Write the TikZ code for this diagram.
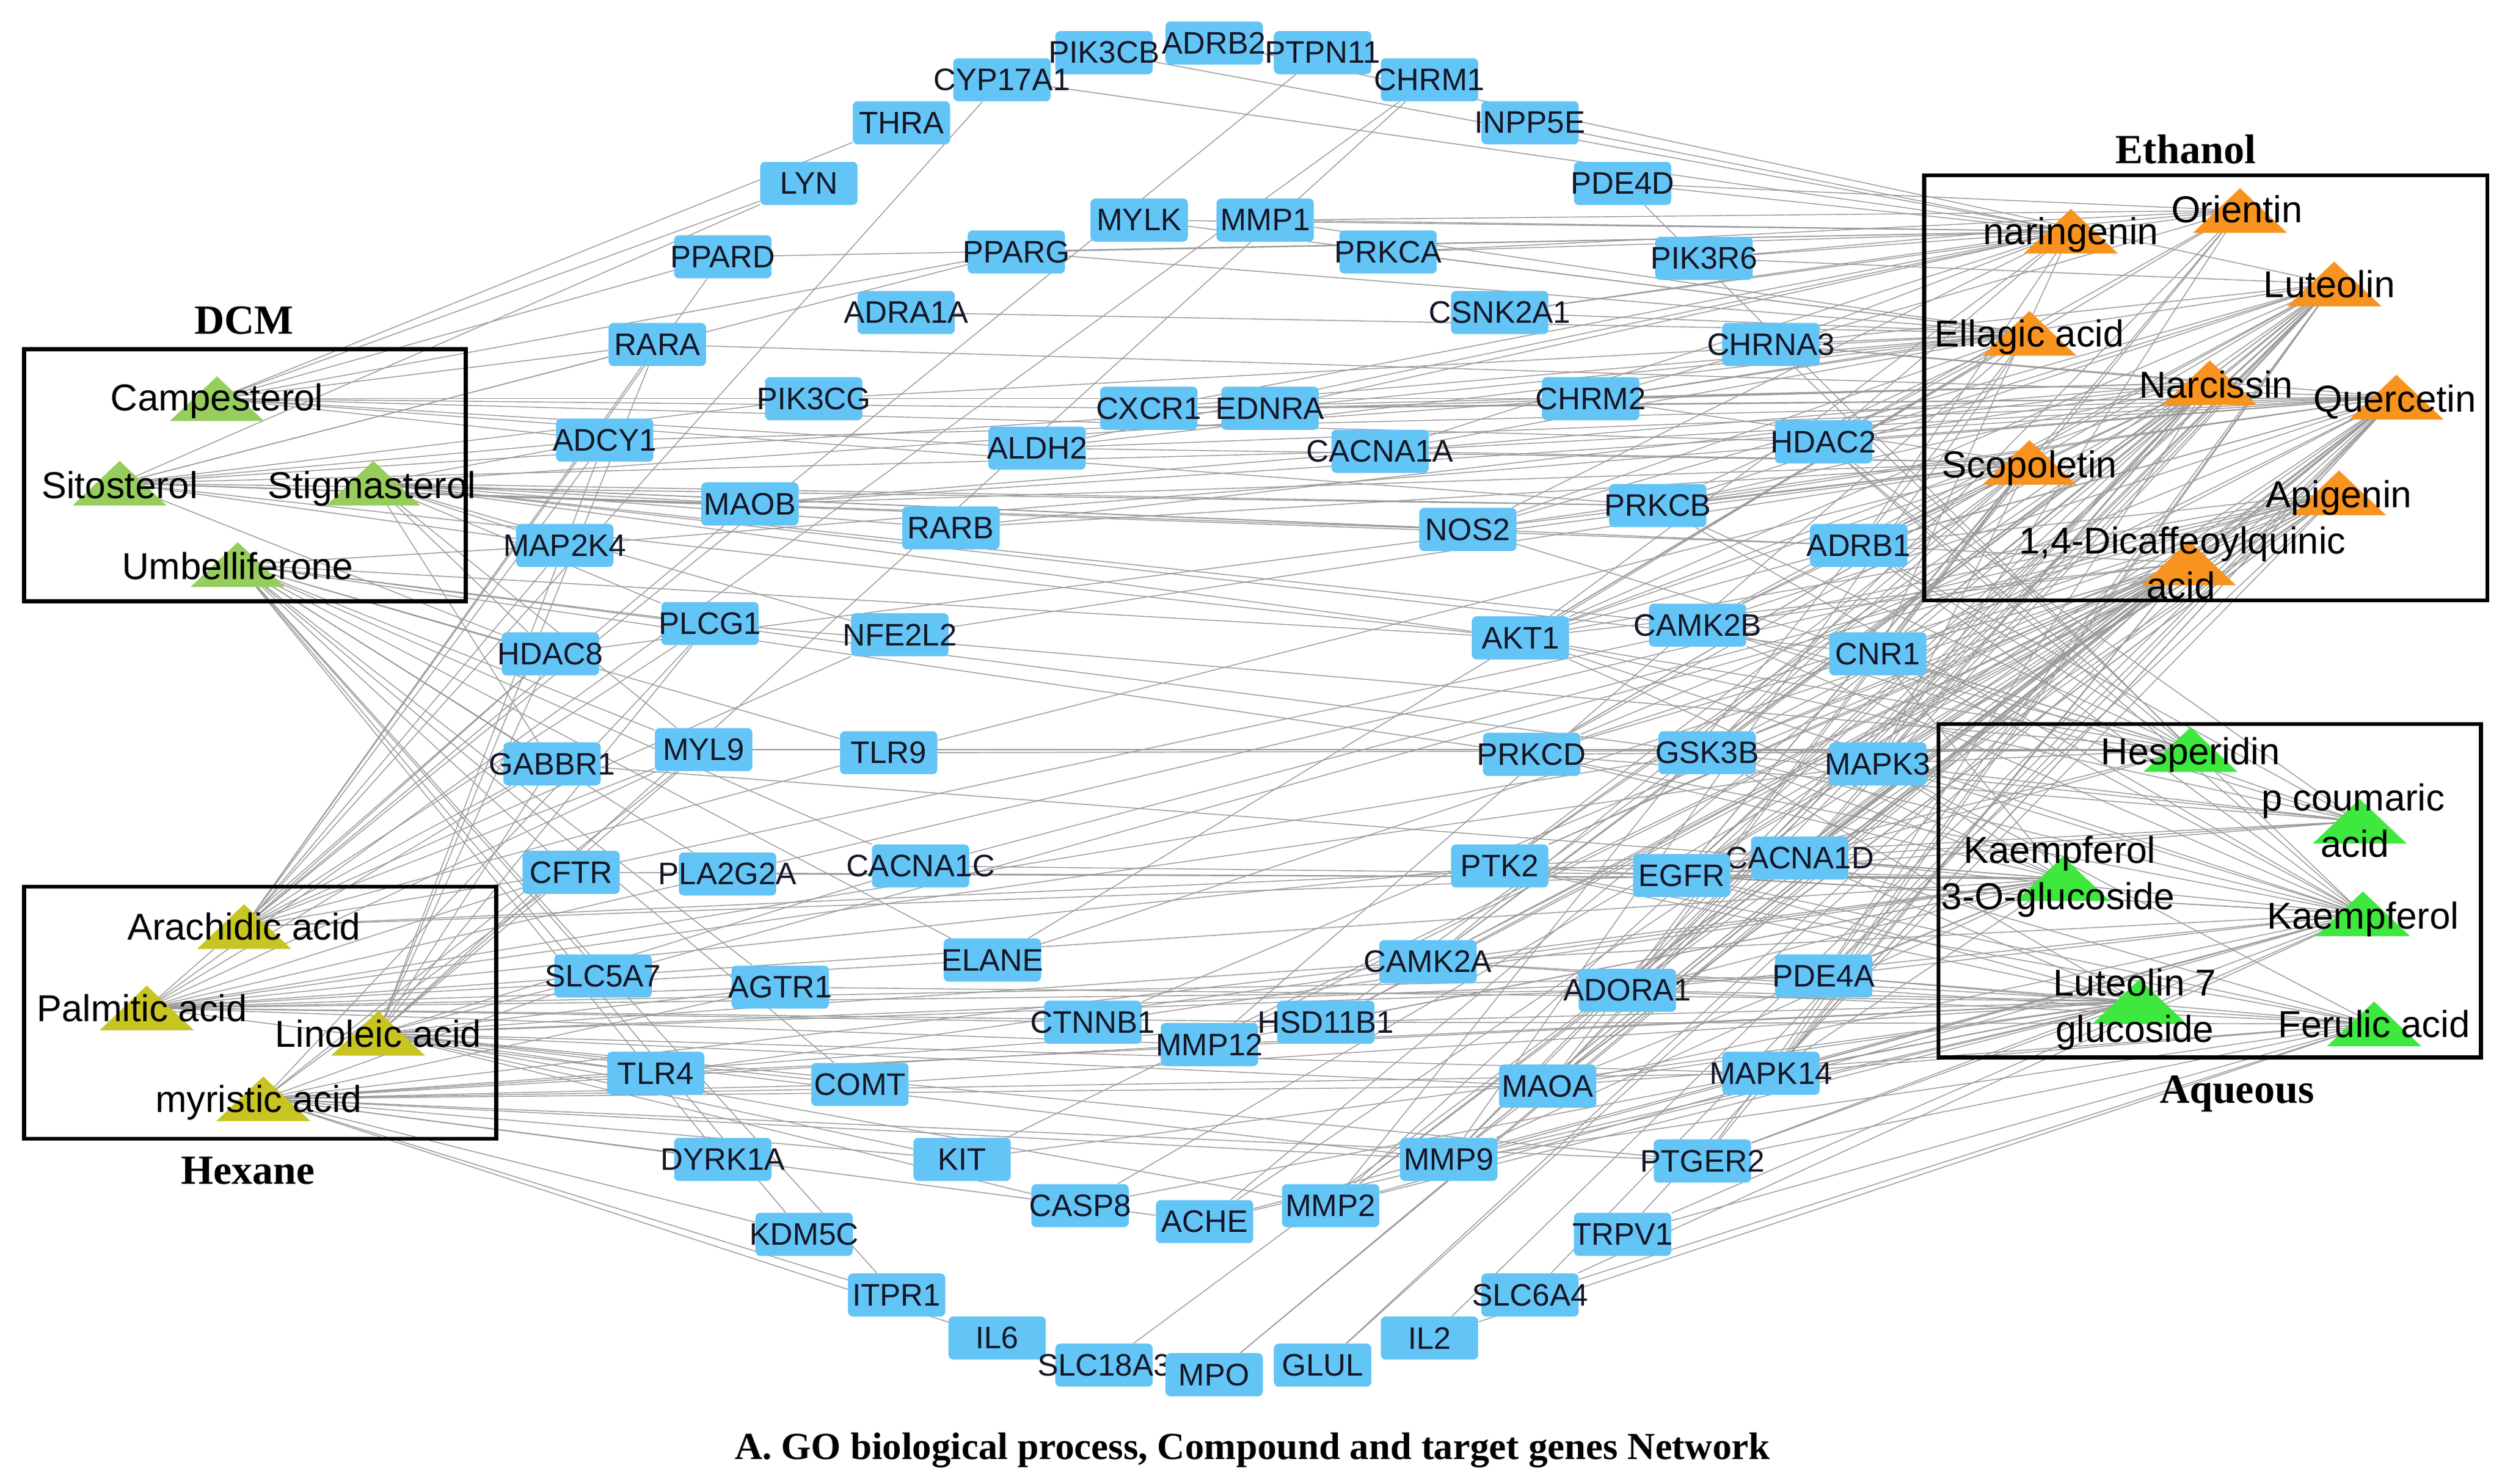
\documentclass[tikz,border=0pt]{standalone}
\usepackage{fontspec}
\setmainfont{Liberation Sans}
\newfontfamily\capfont{Liberation Serif}
\usetikzlibrary{backgrounds}
\definecolor{genebl}{RGB}{99,196,246}
\definecolor{dcmgr}{RGB}{150,205,92}
\definecolor{ethor}{RGB}{247,147,30}
\definecolor{aqugr}{RGB}{62,232,62}
\definecolor{hexol}{RGB}{200,196,34}
\definecolor{genetx}{RGB}{20,22,38}
\tikzset{
  gene/.style={fill=genebl, rounded corners=3pt, minimum width=61pt, minimum height=27pt, inner sep=0pt, label={[genetxt]center:#1}},
  genetxt/.style={font=\fontsize{19.5}{21}\selectfont, text=genetx, inner sep=0pt},
  cmptxt/.style={font=\fontsize{23.5}{25}\selectfont, inner sep=0pt, text height=16.8pt, text depth=0pt},
  grp/.style={draw, line width=2.5pt},
  grptxt/.style={font=\capfont\bfseries\fontsize{26}{28}\selectfont, inner sep=0pt, text height=17.2pt, text depth=0pt},
  edge/.style={black!40, line width=0.55pt}
}
\begin{document}
\begin{tikzpicture}[x=1pt,y=-1pt]
	\useasboundingbox (0,0) rectangle (1568.2,930.5);
	\foreach \g/\x/\y in {ADRB2/761/27, PIK3CB/692/33, PTPN11/829/33, CYP17A1/628/50, CHRM1/896/50,
		THRA/565/77, INPP5E/959/77, LYN/507/115, PDE4D/1017/115, PPARD/453/161, PIK3R6/1068/162,
		RARA/412/216, CHRNA3/1110/216, ADCY1/379/276, HDAC2/1143/277, MAP2K4/354/342, ADRB1/1165/342,
		HDAC8/345/410, CNR1/1177/410, GABBR1/346/479, MAPK3/1177/479, CFTR/358/547, CACNA1D/1128/538,
		SLC5A7/378/612, PDE4A/1143/612, TLR4/411/673, MAPK14/1110/673, DYRK1A/453/727, PTGER2/1067/728,
		KDM5C/504/774, TRPV1/1017/774, ITPR1/562/812, SLC6A4/959/812, IL6/625/839, IL2/896/839,
		SLC18A3/692/856, MPO/761/862, GLUL/829/856,
		MYLK/714/138, MMP1/793/138, PPARG/637/158, PRKCA/870/158, ADRA1A/568/196, CSNK2A1/940/196,
		PIK3CG/510/250, CHRM2/997/250, MAOB/470/316, PRKCB/1039/317, PLCG1/445/391, CAMK2B/1064/392,
		MYL9/441/470, GSK3B/1070/472, PLA2G2A/456/548, EGFR/1054/549, AGTR1/489/619, ADORA1/1020/621,
		COMT/539/680, MAOA/970/681, KIT/603/727, MMP9/908/727, CASP8/677/756, MMP2/834/756, ACHE/755/766,
		CXCR1/720/256, EDNRA/796/256, ALDH2/650/281, CACNA1A/865/283, RARB/596/331, NOS2/920/332,
		NFE2L2/564/398, AKT1/953/400, TLR9/557/472, PRKCD/960/473, CACNA1C/577/543, PTK2/940/543,
		ELANE/622/602, CAMK2A/895/603, CTNNB1/685/641, HSD11B1/831/641, MMP12/758/655}
		\node[gene=\g] (\g) at (\x,\y) {};
	\foreach \c/\x/\y in {camp/136/250, sito/75/303, stig/234/303, umbel/149/354,
		arach/153/581, palm/92/632, linol/237/648, myris/165/689,
		nar/1298/145, orien/1404/132, lute/1463/178, ellag/1272/209, narc/1385/240,
		quer/1502/249, scop/1272/290, apig/1466/309, dicaf/1372/353,
		hesp/1373/470, pcou/1479/515, kae3g/1293/551, kaem/1481/573, lut7g/1341/628, ferul/1488/642}
		\coordinate (\c) at (\x,\y);
	\begin{scope}[on background layer]
		\foreach \c/\gs in {
			camp/{RARA,PPARD,LYN,THRA,PIK3CG,ALDH2,CXCR1,PRKCB,HDAC2,CHRM2,ADCY1,PPARG},
			sito/{ADCY1,RARA,MAOB,CACNA1A,NOS2,PRKCB,ADRB1,EDNRA,PPARG,HDAC8,MAP2K4,AKT1,LYN,PIK3CG},
			stig/{MAP2K4,HDAC8,RARB,NOS2,ADRB1,CHRM2,CNR1,NFE2L2,AKT1,CAMK2B,PRKCB,MAOB,GABBR1,MYL9,ADCY1,PLCG1},
			umbel/{HDAC8,PLCG1,MYL9,TLR9,GABBR1,CFTR,PLA2G2A,CACNA1C,SLC5A7,AGTR1,AKT1,PRKCD,GSK3B,COMT,DYRK1A,ELANE,KDM5C,ITPR1,MAP2K4},
			arach/{CFTR,GABBR1,MYL9,HDAC8,PLCG1,MAP2K4,ADCY1,RARA,MAOB,NFE2L2,TLR9,EGFR,CACNA1D,PTPN11,CYP17A1,PPARD},
			palm/{SLC5A7,CFTR,PLA2G2A,AGTR1,TLR4,ELANE,CTNNB1,MMP12,HSD11B1,ADORA1,PDE4A,GSK3B,MAPK3,HDAC8,MYL9,PTK2,CHRM1,GABBR1},
			linol/{SLC5A7,TLR4,AGTR1,COMT,KIT,CASP8,MMP2,MMP9,MAOA,MAPK14,ADORA1,CAMK2A,CACNA1C,PLCG1,MYL9,GABBR1,PTGER2,PDE4A,ADCY1,RARA,CHRM1,HDAC8,CFTR},
			myris/{TLR4,COMT,DYRK1A,KDM5C,KIT,ACHE,MMP9,MAOA,MAPK14,PTGER2,CAMK2A,HSD11B1,MMP12,ITPR1,SLC5A7,AGTR1,CFTR,MYL9,PLCG1,IL6},
			nar/{PDE4D,PIK3R6,CHRNA3,PRKCA,MMP1,MYLK,PPARG,CSNK2A1,HDAC2,ADRB1,CNR1,AKT1,NOS2,CACNA1A,EDNRA,CXCR1,ALDH2,PPARD,CYP17A1,PIK3CB,INPP5E},
			orien/{PIK3R6,PDE4D,CSNK2A1,PRKCA,CHRM2,HDAC2,CNR1,MAPK3,GSK3B,EGFR,AKT1,MMP1},
			lute/{PIK3R6,CHRNA3,HDAC2,ADRB1,CNR1,MAPK3,CACNA1D,EGFR,GSK3B,PRKCD,PTK2,AKT1,CAMK2B,CAMK2A,PDE4A,ADORA1,MAOA,MMP9,MMP2,MAPK14,PTGER2,ACHE,NOS2,PRKCB,CHRM2,ADRB2},
			ellag/{PRKCA,MMP1,MYLK,PPARG,ADRA1A,PIK3CG,CXCR1,EDNRA,ALDH2,CSNK2A1,CHRNA3,CHRM2,CACNA1A,PRKCB,HDAC2,NOS2,MMP2,MMP9,MMP12,ELANE,AKT1},
			narc/{CHRNA3,CHRM2,HDAC2,ADRB1,PRKCB,CAMK2B,CNR1,MAPK3,GSK3B,AKT1,PRKCD,PTK2,EGFR,CACNA1D,PDE4A,ADORA1,MAOA,MMP9,CAMK2A,HSD11B1,EDNRA,CXCR1,MAOB,RARB},
			quer/{CHRNA3,HDAC2,ADRB1,CNR1,MAPK3,CACNA1D,EGFR,GSK3B,PRKCD,AKT1,CAMK2B,PRKCB,NOS2,CACNA1A,EDNRA,CXCR1,ALDH2,MAOB,MAP2K4,ADCY1,RARA,PDE4A,MAPK14,ADORA1,MAOA,MMP9,MMP2,TRPV1,SLC6A4,IL2,GLUL,MPO},
			scop/{PRKCB,CHRM2,CACNA1A,NOS2,AKT1,CAMK2B,CNR1,ADRB1,MAPK3,GSK3B,EGFR,PRKCD,PTK2,CAMK2A,ADORA1,MAOA,MAOB,RARB,ALDH2,NFE2L2,TLR9,HDAC8},
			apig/{ADRB1,CNR1,MAPK3,CACNA1D,EGFR,PTK2,GSK3B,PRKCD,AKT1,ADORA1,PDE4A,MAPK14,MAOA,MMP9,CAMK2A,HSD11B1,CACNA1C,PLA2G2A,CFTR,SLC5A7},
			dicaf/{ADRB1,CNR1,CAMK2B,AKT1,PRKCD,GSK3B,MAPK3,EGFR,PTK2,CACNA1D,ADORA1,MAOA,MMP9,MMP2,ACHE,CASP8,MMP12,CTNNB1,HSD11B1,CAMK2A,ELANE,KIT,MAPK14,PTGER2,MPO,GLUL,SLC18A3},
			hesp/{MAPK3,CNR1,GSK3B,PRKCD,EGFR,CACNA1D,AKT1,CAMK2B,ADRB1,HDAC2,PRKCB,NOS2,MYL9,TLR9,PLCG1,PDE4D},
			pcou/{MAPK3,CACNA1D,EGFR,GSK3B,PRKCD,PTK2,AKT1,CNR1,ADRB1,CAMK2B,HDAC2},
			kae3g/{MAPK3,CACNA1D,EGFR,GSK3B,PTK2,PRKCD,CNR1,AKT1,ADORA1,PDE4A,MAPK14,MAOA,MMP9,CAMK2A,MMP12,HSD11B1,CTNNB1,CACNA1C,PLA2G2A,CFTR,TLR4,SLC5A7,GABBR1},
			kaem/{MAPK3,CACNA1D,EGFR,GSK3B,PRKCD,PTK2,ADORA1,PDE4A,MAPK14,MAOA,MMP9,MMP2,CAMK2A,ACHE,PTGER2,TRPV1,AKT1,CNR1,ADRB1,HDAC2,CHRNA3,PRKCB,CAMK2B,SLC6A4},
			lut7g/{CACNA1D,EGFR,PDE4A,ADORA1,MAPK14,MAOA,MMP9,PTGER2,MMP2,CAMK2A,HSD11B1,MMP12,ACHE,CASP8,KIT,COMT,TLR4,AGTR1,PTK2,GSK3B},
			ferul/{PDE4A,MAPK14,ADORA1,MAOA,PTGER2,MMP9,TRPV1,SLC6A4,IL2,EGFR,CACNA1D,MAPK3,PTK2,CAMK2A,HSD11B1}}
			{\foreach \g in \gs {\draw[edge] (\c) -- (\g);}}
	\end{scope}
	\foreach \c/\col in {camp/dcmgr, sito/dcmgr, stig/dcmgr, umbel/dcmgr,
		arach/hexol, palm/hexol, linol/hexol, myris/hexol,
		nar/ethor, orien/ethor, lute/ethor, ellag/ethor, narc/ethor, quer/ethor, scop/ethor, apig/ethor, dicaf/ethor,
		hesp/aqugr, pcou/aqugr, kae3g/aqugr, kaem/aqugr, lut7g/aqugr, ferul/aqugr}
		\fill[\col] (\c) ++(-29.5,14) -- ++(29.5,-28) -- ++(29.5,28) -- cycle;
	\foreach \n/\x/\y/\t in {camp-l/136/249/Campesterol, sito-l/75/304/Sitosterol, stig-l/233/304/Stigmasterol,
		umbel-l/149/355/Umbelliferone, arach-l/153/581/Arachidic acid, palm-l/89/632/Palmitic acid,
		linol-l/237/648/Linoleic acid, myris-l/162/689/myristic acid,
		nar-l/1298/145/naringenin, orien-l/1402/131/Orientin, lute-l/1460/178/Luteolin,
		ellag-l/1272/209/Ellagic acid, narc-l/1389/241/Narcissin, quer-l/1501/250/Quercetin,
		scop-l/1272/291/Scopoletin, apig-l/1466/310/Apigenin,
		dicaf-l1/1368/339/{1,4-Dicaffeoylquinic}, dicaf-l2/1367/367/acid,
		hesp-l/1373/471/Hesperidin, pcou-l1/1475/500/p coumaric, pcou-l2/1476/529/acid,
		kae3g-l1/1291/533/Kaempferol, kae3g-l2/1290/562/3-O-glucoside, kaem-l/1481/574/Kaempferol,
		lut7g-l1/1338/616/Luteolin 7, lut7g-l2/1338/645/glucoside, ferul-l/1488/642/Ferulic acid}
		\node[cmptxt] (\n) at (\x,\y) {\t};
	\draw[grp] (15,219) rectangle (292,377);
	\draw[grp] (1206,110) rectangle (1559,376.5);
	\draw[grp] (1215,454) rectangle (1555,663);
	\draw[grp] (15,556) rectangle (311,714);
	\node[grptxt] (dcm) at (153,201) {DCM};
	\node[grptxt] (ethanol) at (1370,94) {Ethanol};
	\node[grptxt] (aqueous) at (1402,683) {Aqueous};
	\node[grptxt] (hexane) at (155.5,734) {Hexane};
	\node[font=\capfont\bfseries\fontsize{24}{26}\selectfont, anchor=base, inner sep=0pt] (caption) at (785,915) {A. GO biological process, Compound and target genes Network};
\end{tikzpicture}
\end{document}
